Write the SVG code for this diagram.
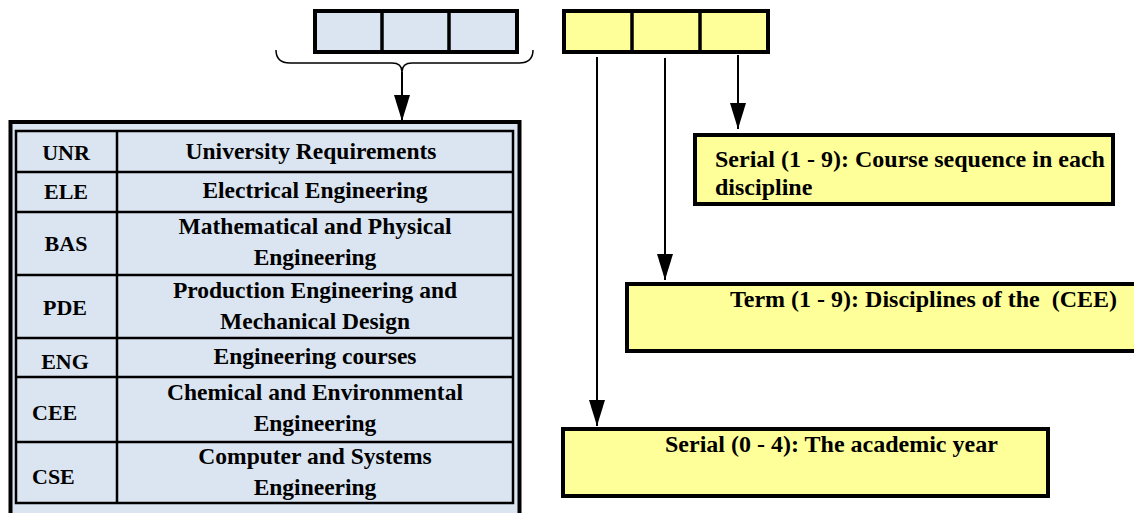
<svg xmlns="http://www.w3.org/2000/svg" width="1134" height="513" viewBox="0 0 1134 513">
  <defs>
    <marker id="arrow" viewBox="0 0 26 16" refX="26" refY="8" markerWidth="26" markerHeight="16" markerUnits="userSpaceOnUse" orient="auto">
      <path d="M0,0 L26,8 L0,16 Z" fill="#000"/>
    </marker>
    <style>
      .blue { fill: #DBE5F1; stroke: #000; stroke-width: 4; }
      .yellow { fill: #FFFF99; stroke: #000; stroke-width: 4; }
      .div { stroke: #000; stroke-width: 3.5; }
      .grid { fill: none; stroke: #000; stroke-width: 2.5; }
      .conn { fill: none; stroke: #000; stroke-width: 2; }
      .brace { fill: none; stroke: #000; stroke-width: 1.5; }
      text { font-family: "Liberation Serif", "Times New Roman", serif; font-weight: bold; font-size: 23.5px; fill: #000; }
      .c { text-anchor: middle; }
      .code { font-size: 22px; }
      .desc { font-size: 24px; }
    </style>
  </defs>

  <!-- code field: discipline letters -->
  <g id="code-letters">
    <rect class="blue" x="315" y="11" width="202" height="41"/>
    <line class="div" x1="382" y1="11" x2="382" y2="52"/>
    <line class="div" x1="449" y1="11" x2="449" y2="52"/>
  </g>

  <!-- code field: digits -->
  <g id="code-digits">
    <rect class="yellow" x="564" y="11" width="204" height="41"/>
    <line class="div" x1="632" y1="11" x2="632" y2="52"/>
    <line class="div" x1="700" y1="11" x2="700" y2="52"/>
  </g>

  <!-- discipline table -->
  <g id="discipline-table">
    <rect class="blue" x="10.5" y="122" width="509" height="400"/>
    <rect class="grid" x="16" y="131" width="497" height="372"/>
    <line class="grid" x1="117" y1="131" x2="117" y2="503"/>
    <line class="grid" x1="16" y1="172" x2="513" y2="172"/>
    <line class="grid" x1="16" y1="212" x2="513" y2="212"/>
    <line class="grid" x1="16" y1="275" x2="513" y2="275"/>
    <line class="grid" x1="16" y1="338" x2="513" y2="338"/>
    <line class="grid" x1="16" y1="377" x2="513" y2="377"/>
    <line class="grid" x1="16" y1="442" x2="513" y2="442"/>

    <text class="c code" x="66" y="160">UNR</text>
    <text class="c" x="311" y="159">University Requirements</text>

    <text class="c code" x="66" y="199">ELE</text>
    <text class="c" x="315" y="198">Electrical Engineering</text>

    <text class="c code" x="66" y="251">BAS</text>
    <text class="c" x="315" y="234">Mathematical and Physical</text>
    <text class="c" x="315" y="265">Engineering</text>

    <text class="c code" x="65" y="315">PDE</text>
    <text class="c" x="315" y="298">Production Engineering and</text>
    <text class="c" x="315" y="329">Mechanical Design</text>

    <text class="c code" x="65" y="369">ENG</text>
    <text class="c" x="315" y="364">Engineering courses</text>

    <text class="code" x="32" y="420">CEE</text>
    <text class="c" x="315" y="400">Chemical and Environmental</text>
    <text class="c" x="315" y="431">Engineering</text>

    <text class="code" x="32" y="484">CSE</text>
    <text class="c" x="315" y="464">Computer and Systems</text>
    <text class="c" x="315" y="495">Engineering</text>
  </g>

  <!-- description boxes -->
  <g id="serial-course">
    <rect class="yellow" x="695" y="135" width="418" height="69"/>
    <text class="desc" x="715" y="167">Serial (1 - 9): Course sequence in each</text>
    <text class="desc" x="715" y="195">discipline</text>
  </g>

  <g id="term">
    <rect class="yellow" x="627" y="284" width="520" height="67"/>
    <text class="desc" x="730" y="307" xml:space="preserve">Term (1 - 9): Disciplines of the  (CEE)</text>
  </g>

  <g id="serial-year">
    <rect class="yellow" x="563" y="429" width="485" height="67"/>
    <text class="desc" x="665" y="452">Serial (0 - 4): The academic year</text>
  </g>

  <!-- connectors -->
  <g id="connectors">
    <path class="brace" d="M276,50 Q276,63 290,63 L392,63 Q402,63 402,72 Q402,63 412,63 L519,63 Q533,63 533,50"/>
    <line class="conn" x1="402" y1="72" x2="402" y2="121" stroke-width="2.5" marker-end="url(#arrow)"/>
    <line class="conn" x1="738" y1="55" x2="738" y2="129" marker-end="url(#arrow)"/>
    <line class="conn" x1="665" y1="58" x2="665" y2="280" marker-end="url(#arrow)"/>
    <line class="conn" x1="597" y1="57" x2="597" y2="426" marker-end="url(#arrow)"/>
  </g>
</svg>
